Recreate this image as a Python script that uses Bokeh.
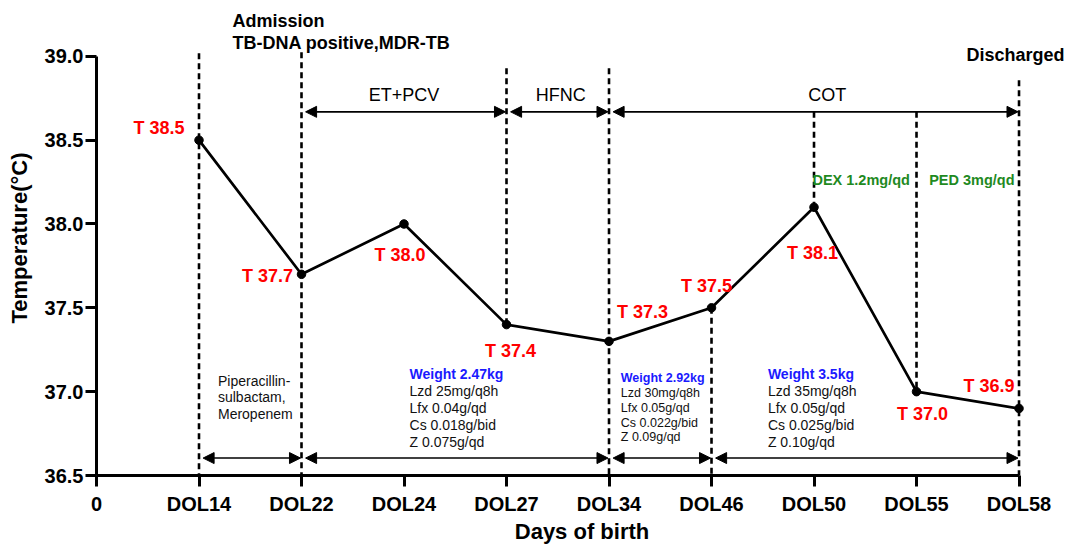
from bokeh.plotting import figure
from bokeh.models import FixedTicker, PrintfTickFormatter, Arrow, NormalHead, Range1d
from bokeh.embed import file_html
from bokeh.resources import INLINE
from bokeh.core.properties import value

# ---------------- data ----------------
days = ["DOL14", "DOL22", "DOL24", "DOL27", "DOL34", "DOL46", "DOL50", "DOL55", "DOL58"]
temps = [38.5, 37.7, 38.0, 37.4, 37.3, 37.5, 38.1, 37.0, 36.9]
x_tick_labels = ["0"] + days
y_ticks = [36.5, 37.0, 37.5, 38.0, 38.5, 39.0]
temp_labels = ["T %.1f" % t for t in temps]

support_phases = ["ET+PCV", "HFNC", "COT"]
support_from = ["DOL22", "DOL27", "DOL34"]
support_to = ["DOL27", "DOL34", "DOL58"]

regimen_from = ["DOL14", "DOL22", "DOL34", "DOL46"]
regimen_to = ["DOL22", "DOL34", "DOL46", "DOL58"]

antibiotics = ["Piperacillin-", "sulbactam,", "Meropenem"]
weights = ["Weight 2.47kg", "Weight 2.92kg", "Weight 3.5kg"]
doses = [
    ["Lzd 25mg/q8h", "Lfx 0.04g/qd", "Cs 0.018g/bid", "Z 0.075g/qd"],
    ["Lzd 30mg/q8h", "Lfx 0.05g/qd", "Cs 0.022g/bid", "Z 0.09g/qd"],
    ["Lzd 35mg/q8h", "Lfx 0.05g/qd", "Cs 0.025g/bid", "Z 0.10g/qd"],
]
steroids = ["DEX 1.2mg/qd", "PED 3mg/qd"]

# ---------------- layout helpers ----------------
FONT = "Liberation Sans"
PX_X = 102.5   # screen px per category step
PX_Y = 168.0   # screen px per degree
xpos = {d: i + 1 for i, d in enumerate(days)}
xs = [xpos[d] for d in days]

p = figure(width=1067, height=546,
           x_range=Range1d(0, 9.473), y_range=Range1d(36.5, 39.333),
           output_backend="svg", toolbar_location=None,
           min_border_left=96, min_border_right=0,
           min_border_top=0, min_border_bottom=70)
p.outline_line_color = None
p.grid.visible = False
p.background_fill_color = "white"
p.border_fill_color = "white"

# axes
p.xaxis.bounds = (0, 9)
p.xaxis.ticker = FixedTicker(ticks=list(range(len(x_tick_labels))))
p.xaxis.major_label_overrides = {i: lab for i, lab in enumerate(x_tick_labels)}
p.xaxis.axis_label = "Days of birth"
p.xaxis.major_label_standoff = 6
p.xaxis.axis_label_standoff = 1

p.yaxis.bounds = (36.5, 39.0)
p.yaxis.ticker = FixedTicker(ticks=y_ticks)
p.yaxis.formatter = PrintfTickFormatter(format="%.1f")
p.yaxis.axis_label = "Temperature(°C)"
p.yaxis.major_label_standoff = 2
p.yaxis.axis_label_standoff = 10

for ax in (p.xaxis[0], p.yaxis[0]):
    ax.axis_line_width = 3
    ax.axis_line_color = "black"
    ax.major_tick_line_width = 3
    ax.major_tick_line_color = "black"
    ax.major_tick_out = 11
    ax.major_tick_in = 0
    ax.minor_tick_out = 0
    ax.minor_tick_in = 0
    ax.major_label_text_font = FONT
    ax.major_label_text_font_size = "20px"
    ax.major_label_text_font_style = "bold"
    ax.major_label_text_color = "black"
    ax.axis_label_text_font = FONT
    ax.axis_label_text_font_size = "22px"
    ax.axis_label_text_font_style = "bold"
    ax.axis_label_text_color = "black"

# ---------------- dashed event lines ----------------
y_top_phase = 38.669
seg_x = [xpos["DOL14"], xpos["DOL22"], xpos["DOL27"], xpos["DOL34"],
         xpos["DOL46"], xpos["DOL50"], xpos["DOL55"], xpos["DOL58"]]
seg_y0 = [39.018, 39.024, 38.929, 38.929,
          temps[days.index("DOL46")], y_top_phase, y_top_phase, 38.857]
seg_y1 = [36.5, 36.5, temps[days.index("DOL27")], 36.5,
          36.5, temps[days.index("DOL50")], temps[days.index("DOL55")], 36.5]
p.segment(x0=seg_x, y0=seg_y0, x1=seg_x, y1=seg_y1,
          line_color="black", line_width=2.6, line_dash="6 4")

# ---------------- temperature curve ----------------
p.line(xs, temps, line_color="black", line_width=2.7)
p.scatter(xs, temps, size=8.5, color="black")

# temperature labels (offsets in screen px: right, down)
lab_dx = [-40, -34, -4, 4, 33.5, -5, -1.5, 6, -30]
lab_dy = [-12, 2, 31, 26, -29, -22, 46, 22, -22]
p.text(x=[x + dx / PX_X for x, dx in zip(xs, lab_dx)],
       y=[t - dy / PX_Y for t, dy in zip(temps, lab_dy)],
       text=temp_labels, text_font=value(FONT), text_font_size="18px",
       text_font_style="bold", text_color="#ff0000",
       text_align="center", text_baseline="middle")

# ---------------- arrows ----------------
def add_arrow(x0, x1, y):
    p.add_layout(Arrow(
        start=NormalHead(size=11, fill_color="black", line_color="black", line_width=1),
        end=NormalHead(size=11, fill_color="black", line_color="black", line_width=1),
        x_start=x0 + 0.04, y_start=y, x_end=x1 - 0.01, y_end=y,
        line_color="black", line_width=1.6))

for a, b in zip(support_from, support_to):
    add_arrow(xpos[a], xpos[b], y_top_phase)
for a, b in zip(regimen_from, regimen_to):
    add_arrow(xpos[a], xpos[b], 36.604)

# phase labels
phase_cx = [3.0, 4.53, 7.13]
p.text(x=phase_cx, y=[38.77] * 3, text=support_phases,
       text_font=value(FONT), text_font_size="18px", text_color="black",
       text_align="center", text_baseline="middle")

# header texts
p.text(x=[1.327, 1.327], y=[39.208, 39.077],
       text=["Admission", "TB-DNA positive,MDR-TB"],
       text_font=value(FONT), text_font_size="18px", text_font_style="bold",
       text_color="black", text_align="left", text_baseline="middle")
p.text(x=[9.444], y=[39.006], text=["Discharged"],
       text_font=value(FONT), text_font_size="18px", text_font_style="bold",
       text_color="black", text_align="right", text_baseline="middle")

# steroid labels
p.text(x=[7.46, 8.54], y=[38.264, 38.264], text=steroids,
       text_font=value(FONT), text_font_size="14.5px", text_font_style="bold",
       text_color="#1f8a1f", text_align="center", text_baseline="middle")

# antibiotics
p.text(x=[1.185] * 3, y=[37.064, 36.969, 36.868], text=antibiotics,
       text_font=value(FONT), text_font_size="14px", text_color="#111111",
       text_align="left", text_baseline="middle")

# weight / dose blocks
block_x = [3.054, 5.115, 6.55]
block_y = [[37.106, 37.005, 36.904, 36.803, 36.702],
           [37.080, 36.991, 36.902, 36.815, 36.727],
           [37.106, 37.005, 36.904, 36.803, 36.702]]
block_fs = ["14px", "12.5px", "14px"]
for bx, by, fs, w, ds in zip(block_x, block_y, block_fs, weights, doses):
    p.text(x=[bx], y=[by[0]], text=[w], text_font=value(FONT), text_font_size=fs,
           text_font_style="bold", text_color="#1a1aff",
           text_align="left", text_baseline="middle")
    p.text(x=[bx] * len(ds), y=by[1:], text=ds, text_font=value(FONT),
           text_font_size=fs, text_color="#111111",
           text_align="left", text_baseline="middle")

open("out.html", "w").write(file_html(p, INLINE))
